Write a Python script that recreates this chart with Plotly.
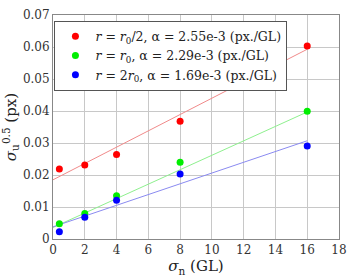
import plotly.graph_objects as go

x_vals = [0.4, 2, 4, 8, 16]
red_y = [0.0219, 0.0231, 0.0264, 0.0368, 0.0603]
green_y = [0.0048, 0.0080, 0.0135, 0.0240, 0.0399]
blue_y = [0.0023, 0.0068, 0.0121, 0.0203, 0.0291]

fit_x = [0, 16]
red_fit = [0.0185, 0.0593]
green_fit = [0.0036, 0.0397]
blue_fit = [0.0038, 0.0307]

labels = [
    "<i>r</i> = <i>r</i><sub>0</sub>/2, α = 2.55e-3 (px./GL)",
    "<i>r</i> = <i>r</i><sub>0</sub>, α = 2.29e-3 (px./GL)",
    "<i>r</i> = 2<i>r</i><sub>0</sub>, α = 1.69e-3 (px./GL)",
]

x_ticks = list(range(0, 19, 2))
y_ticks = [0, 0.01, 0.02, 0.03, 0.04, 0.05, 0.06, 0.07]
y_ticktext = ["0", "0.01", "0.02", "0.03", "0.04", "0.05", "0.06", "0.07"]

series = [
    (red_y, red_fit, "#ff0000", "#f08a8a", labels[0]),
    (green_y, green_fit, "#00ee00", "#8ef08e", labels[1]),
    (blue_y, blue_fit, "#0000ff", "#8a8af0", labels[2]),
]

fig = go.Figure()
for ys, fit, c, lc, name in series:
    fig.add_trace(go.Scatter(x=fit_x, y=fit, mode="lines", line=dict(color=lc, width=1),
                             showlegend=False, hoverinfo="skip"))
for ys, fit, c, lc, name in series:
    fig.add_trace(go.Scatter(x=x_vals, y=ys, mode="markers", name=name,
                             marker=dict(color=c, size=7)))

font_fam = "DejaVu Serif"
fig.update_layout(
    width=355, height=278,
    margin=dict(l=50, r=8, t=11, b=33),
    paper_bgcolor="white", plot_bgcolor="white",
    font=dict(family=font_fam, size=12, color="#333333"),
    legend=dict(x=0.005, y=0.975, xanchor="left", yanchor="top",
                bgcolor="white", bordercolor="#555555", borderwidth=1,
                font=dict(family=font_fam, size=12.5, color="#222222"), itemwidth=30,
                tracegroupgap=0),
    xaxis=dict(range=[0, 18], tickvals=x_ticks, showgrid=True, gridcolor="#c8c8c8",
               gridwidth=1, showline=True, linecolor="#888888", mirror=True,
               ticks="", zeroline=False,
               title=dict(text="<i>σ</i><sub>n</sub> (GL)", font=dict(family=font_fam, size=15, color="#222222"),
                          standoff=2)),
    yaxis=dict(range=[0, 0.07], tickvals=y_ticks, ticktext=y_ticktext, showgrid=True,
               gridcolor="#c8c8c8", gridwidth=1, showline=True, linecolor="#888888",
               mirror=True, ticks="", zeroline=False,
               title=dict(text="<i>σ</i><sub>u</sub><sup>0.5</sup> (px)",
                          font=dict(family=font_fam, size=15, color="#222222"), standoff=4)),
)
fig.write_html("out.html")
